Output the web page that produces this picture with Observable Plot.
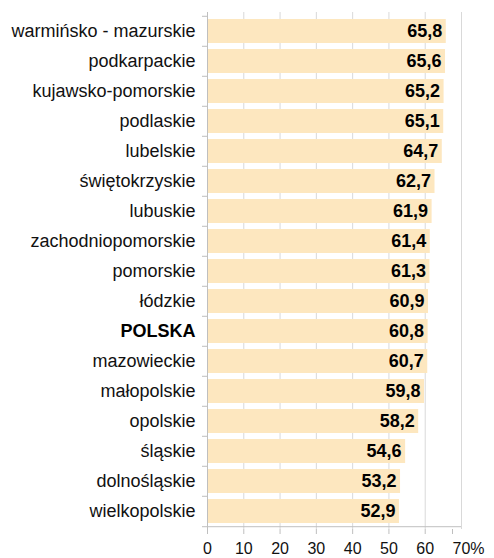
<!DOCTYPE html>
<html>
<head>
<meta charset="utf-8">
<script src="https://cdn.jsdelivr.net/npm/d3@7"></script>
<script src="https://cdn.jsdelivr.net/npm/@observablehq/plot@0.6"></script>
<style>
  html, body { margin: 0; padding: 0; background: #fff; }
  #chart svg { display: block; }
</style>
</head>
<body>
<div id="chart"></div>
<script>
const regions = [
  "warmińsko - mazurskie", "podkarpackie", "kujawsko-pomorskie", "podlaskie",
  "lubelskie", "świętokrzyskie", "lubuskie", "zachodniopomorskie", "pomorskie",
  "łódzkie", "POLSKA", "mazowieckie", "małopolskie", "opolskie", "śląskie",
  "dolnośląskie", "wielkopolskie"
];
const values = [65.8, 65.6, 65.2, 65.1, 64.7, 62.7, 61.9, 61.4, 61.3, 60.9, 60.8, 60.7, 59.8, 58.2, 54.6, 53.2, 52.9];
const xTicks = [0, 10, 20, 30, 40, 50, 60, 70];
const boldRegion = "POLSKA";

const data = regions.map((r, i) => ({region: r, value: values[i]}));

const W = 494, H = 558, mT = 12, mB = 29, mL = 207, mR = 33;
const step = (H - mT - mB) / regions.length;
const fmt = v => v.toFixed(1).replace(".", ",");
const axisGray = "#bfbfbf";
const font = "'Liberation Sans', Arial, sans-serif";
const lastTick = xTicks[xTicks.length - 1];

const chart = Plot.plot({
  width: W,
  height: H,
  marginTop: mT,
  marginBottom: mB,
  marginLeft: mL,
  marginRight: mR,
  style: {fontFamily: font, color: "#000", background: "#fff", overflow: "visible"},
  x: {domain: [0, 70], axis: null, label: null},
  y: {domain: regions, padding: 0, axis: null, label: null},
  marks: [
    Plot.gridX(xTicks, {stroke: "#d9d9d9", strokeOpacity: 1}),
    Plot.barX(data, {x: "value", y: "region", fill: "#fde7bf", insetTop: 3, insetBottom: 3}),
    Plot.ruleX([0], {stroke: axisGray}),
    Plot.ruleY([regions[regions.length - 1]], {x1: 0, x2: 70, dy: step / 2, stroke: axisGray}),
    Plot.ruleY(regions, {y: d => d, x1: 0, x2: 0, insetLeft: -5, dy: -step / 2, stroke: axisGray}),
    Plot.ruleY([regions[regions.length - 1]], {y: d => d, x1: 0, x2: 0, insetLeft: -5, dy: step / 2, stroke: axisGray}),
    Plot.axisX(xTicks.slice(0, -1), {
      tickSize: 5, tickPadding: 8, stroke: axisGray, fill: "#111", fontSize: 16, label: null,
      tickFormat: d => String(d)
    }),
    Plot.axisX([lastTick], {
      tickSize: 5, tickPadding: 8, stroke: axisGray, fill: "#111", fontSize: 16, label: null,
      textAnchor: "start", dx: -9,
      tickFormat: d => d + "%"
    }),
    Plot.text(data.filter(d => d.region !== boldRegion), {
      x: 0, y: "region", text: "region", textAnchor: "end", dx: -12, fontSize: 18, fill: "#111"
    }),
    Plot.text(data.filter(d => d.region === boldRegion), {
      x: 0, y: "region", text: "region", textAnchor: "end", dx: -12, fontSize: 18, fontWeight: "bold", fill: "#000"
    }),
    Plot.text(data, {
      x: "value", y: "region", text: d => fmt(d.value), textAnchor: "end", dx: -4,
      fontSize: 18, fontWeight: "bold", fill: "#000"
    })
  ]
});
document.getElementById("chart").appendChild(chart);
</script>
</body>
</html>
